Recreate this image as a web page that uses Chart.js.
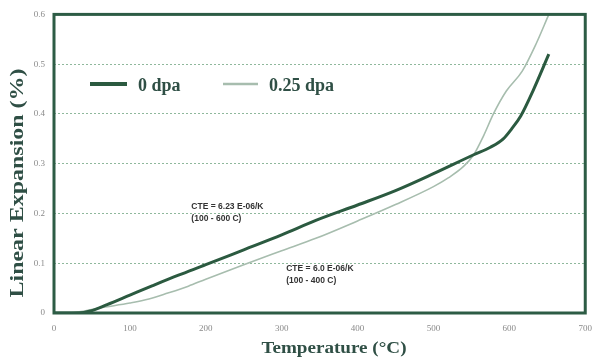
<!DOCTYPE html>
<html>
<head>
<meta charset="utf-8">
<script src="https://cdn.jsdelivr.net/npm/chart.js@4"></script>
<style>
  html, body { margin: 0; padding: 0; background: #fff; }
  #wrap { width: 602px; height: 358px; }
</style>
</head>
<body>
<div id="wrap"><canvas id="cteChart" width="602" height="358"></canvas></div>
<script>
// values: temperature (C) and linear expansion (%)
const seriesLabels = ["0 dpa", "0.25 dpa"];
const temps0 = [0, 33, 48, 70, 100, 130, 164, 200, 250, 300, 345, 400, 450, 500, 553, 575, 592, 603, 615, 631, 652];
const expansion0 = [0, 0, 0.004, 0.017, 0.036, 0.055, 0.076, 0.097, 0.127, 0.157, 0.186, 0.217, 0.246, 0.28, 0.318, 0.333, 0.35, 0.37, 0.396, 0.446, 0.52];
const temps25 = [0, 20, 40, 60, 100, 125, 150, 177, 200, 250, 300, 345, 400, 450, 500, 520, 540, 553, 566, 579, 596, 617, 635, 652];
const expansion25 = [0, 0, 0.004, 0.01, 0.02, 0.028, 0.04, 0.054, 0.068, 0.097, 0.125, 0.15, 0.185, 0.218, 0.254, 0.272, 0.295, 0.318, 0.356, 0.4, 0.446, 0.486, 0.54, 0.6];
const xTicks = [0, 100, 200, 300, 400, 500, 600, 700];
const yTicks = [0, 0.1, 0.2, 0.3, 0.4, 0.5, 0.6];
const notes = [
  ["CTE = 6.23 E-06/K", "(100 - 600 C)"],
  ["CTE = 6.0 E-06/K", "(100 - 400 C)"]
];

const darkGreen = "#2b5a40";
const paleGreen = "#a7bdae";
const titleColor = "#2f4f45";

const toPoints = (xs, ys) => xs.map((x, i) => ({ x: x, y: ys[i] }));

// frame, legend, notes and axis titles
const extras = {
  id: "extras",
  afterDraw(chart) {
    const ctx = chart.ctx;
    const a = chart.chartArea;
    const xs = chart.scales.x;
    const ys = chart.scales.y;
    ctx.save();

    // box round the plot
    ctx.strokeStyle = "#2d5c45";
    ctx.lineWidth = 3;
    ctx.strokeRect(a.left, a.top, a.right - a.left, a.bottom - a.top);

    // legend inside the plot
    const legendX = [90, 223];
    const legendW = [37, 35];
    ctx.font = "bold 18px 'Liberation Serif', 'DejaVu Serif', serif";
    ctx.textBaseline = "middle";
    chart.data.datasets.forEach((ds, i) => {
      ctx.strokeStyle = ds.borderColor;
      ctx.lineWidth = i === 0 ? 4 : 2.5;
      ctx.beginPath();
      ctx.moveTo(legendX[i], 84);
      ctx.lineTo(legendX[i] + legendW[i], 84);
      ctx.stroke();
      ctx.fillStyle = titleColor;
      ctx.fillText(ds.label, legendX[i] + legendW[i] + 11, 86);
    });

    // CTE notes, placed by data position
    ctx.font = "bold 8.5px 'Liberation Sans', Arial, sans-serif";
    ctx.fillStyle = "#333";
    ctx.textBaseline = "middle";
    const notePos = [[181, 0.213], [306, 0.09]];
    notes.forEach((lines, i) => {
      const px = xs.getPixelForValue(notePos[i][0]);
      const py = ys.getPixelForValue(notePos[i][1]);
      ctx.fillText(lines[0], px, py);
      ctx.fillText(lines[1], px, py + 12);
    });

    // axis titles
    ctx.fillStyle = titleColor;
    ctx.textAlign = "center";
    ctx.font = "bold 17px 'Liberation Serif', 'DejaVu Serif', serif";
    let t = "Temperature (\u00B0C)";
    let w = ctx.measureText(t).width;
    ctx.save();
    ctx.translate(334, 349);
    ctx.scale(145 / w, 1);
    ctx.fillText(t, 0, 0);
    ctx.restore();

    ctx.font = "bold 18px 'Liberation Serif', 'DejaVu Serif', serif";
    t = "Linear Expansion (%)";
    w = ctx.measureText(t).width;
    ctx.save();
    ctx.translate(18, 183);
    ctx.rotate(-Math.PI / 2);
    ctx.scale(229 / w, 1);
    ctx.fillText(t, 0, 0);
    ctx.restore();

    ctx.restore();
  }
};

new Chart(document.getElementById("cteChart"), {
  type: "line",
  data: {
    datasets: [
      {
        label: seriesLabels[0],
        data: toPoints(temps0, expansion0),
        borderColor: darkGreen,
        borderWidth: 3,
        pointRadius: 0,
        cubicInterpolationMode: "monotone",
        fill: false
      },
      {
        label: seriesLabels[1],
        data: toPoints(temps25, expansion25),
        borderColor: paleGreen,
        borderWidth: 1.6,
        pointRadius: 0,
        cubicInterpolationMode: "monotone",
        fill: false
      }
    ]
  },
  options: {
    responsive: false,
    animation: false,
    layout: { padding: { top: 13, right: 8, left: 0, bottom: 0 } },
    plugins: {
      legend: { display: false },
      tooltip: { enabled: false }
    },
    scales: {
      x: {
        type: "linear",
        min: xTicks[0],
        max: xTicks[xTicks.length - 1],
        afterFit: (s) => { s.height = 45; },
        afterBuildTicks: (s) => { s.ticks = xTicks.map((v) => ({ value: v })); },
        grid: { display: false, drawTicks: false },
        border: { display: false },
        ticks: {
          padding: 10,
          color: "#8a8a8a",
          font: { family: "'Liberation Serif', serif", size: 9 }
        }
      },
      y: {
        min: yTicks[0],
        max: yTicks[yTicks.length - 1],
        afterFit: (s) => { s.width = 54; },
        afterBuildTicks: (s) => { s.ticks = yTicks.map((v) => ({ value: v })); },
        grid: {
          color: "#8fb89c",
          lineWidth: 1,
          drawTicks: false
        },
        border: { display: false, dash: [2, 2] },
        ticks: {
          padding: 9,
          color: "#8a8a8a",
          font: { family: "'Liberation Serif', serif", size: 9 }
        }
      }
    }
  },
  plugins: [extras]
});
</script>
</body>
</html>
